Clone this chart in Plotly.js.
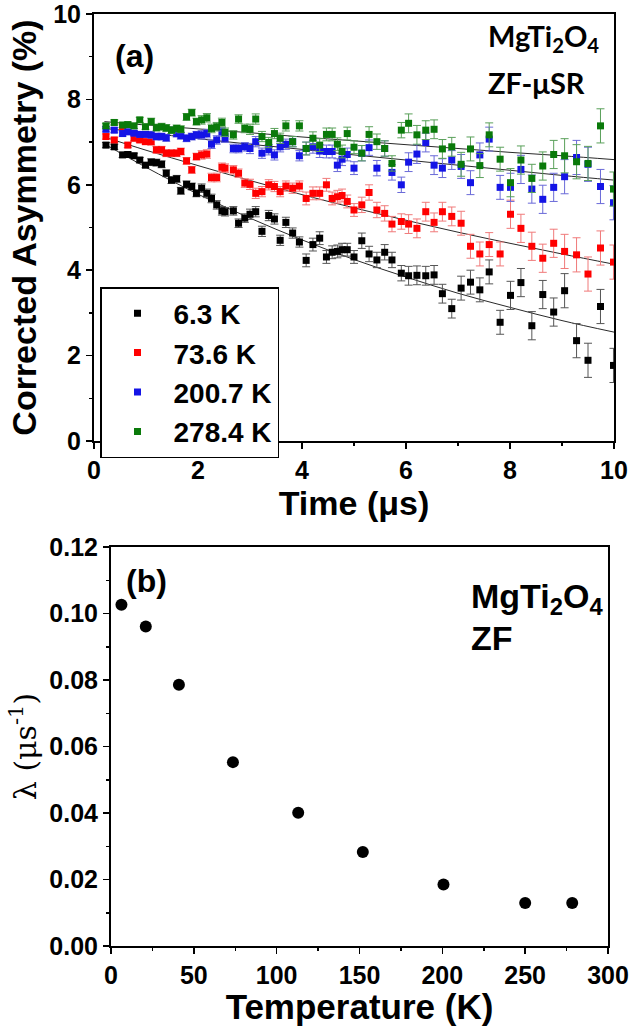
<!DOCTYPE html>
<html>
<head>
<meta charset="utf-8">
<script src="https://cdn.plot.ly/plotly-3.0.1.min.js"></script>
<style>html,body{margin:0;padding:0;background:#fff;}#chart{width:638px;height:1026px;}</style>
</head>
<body>
<div id="chart"></div>
<script>
// ---------- Panel (a): ZF-muSR asymmetry vs time ----------
const timeUs = [0.23,0.39,0.55,0.65,0.77,0.88,0.99,1.10,1.20,1.30,1.39,1.49,1.59,1.67,1.78,1.88,1.97,2.07,2.17,2.26,2.36,2.46,
  2.52,2.68,2.78,2.90,3.00,3.11,3.23,3.36,3.47,3.58,3.69,3.82,3.95,4.08,4.21,4.34,4.47,4.58,4.68,4.77,4.87,5.00,
  5.15,5.29,5.44,5.59,5.73,5.91,6.05,6.21,6.38,6.54,6.70,6.88,7.06,7.24,7.42,7.60,
  7.81,8.01,8.21,8.42,8.63,8.84,9.05,9.28,9.50,9.74,9.99];

const asym6K = [6.93,6.89,6.70,6.71,6.68,6.58,6.46,6.53,6.52,6.48,6.27,6.11,6.14,5.86,6.01,5.96,5.80,5.92,5.80,5.68,5.53,5.39,
  5.37,5.39,5.10,5.22,5.31,5.37,4.91,5.28,5.20,4.70,5.12,4.87,4.66,4.23,4.60,4.75,4.31,4.42,4.44,4.48,4.48,4.31,
  4.69,4.38,4.24,4.42,4.24,3.93,3.87,3.88,3.87,3.89,3.45,3.10,3.58,3.72,3.54,3.96,
  2.78,3.41,3.71,2.70,3.43,3.02,3.52,2.35,1.89,3.15,1.77];

const asym73K = [7.13,7.05,7.36,6.93,7.09,7.05,7.01,7.01,6.82,6.82,6.74,6.74,6.74,6.78,6.56,6.35,6.66,6.70,6.72,6.17,6.17,6.41,
  6.39,6.35,6.27,6.04,6.01,5.80,5.84,6.00,5.96,5.84,5.97,5.92,5.97,5.68,5.80,5.80,6.00,5.68,5.72,5.75,5.61,5.41,
  5.53,5.82,5.41,5.33,5.08,5.14,5.08,4.98,5.37,5.12,5.37,5.26,5.10,4.56,4.38,4.60,
  4.38,5.31,4.98,4.56,4.28,4.63,4.44,4.36,3.91,4.52,4.19];

const asym200K = [7.30,7.28,7.20,7.24,7.21,7.18,7.18,7.17,7.13,7.13,7.10,7.28,7.20,7.15,7.09,7.13,7.17,7.17,7.20,6.95,7.05,7.24,
  7.09,6.85,6.85,6.89,6.85,7.01,6.74,6.82,6.70,6.89,6.95,7.01,6.68,6.85,6.89,6.79,6.78,6.78,6.46,6.60,6.71,6.39,
  6.74,6.87,6.39,6.85,6.29,6.00,6.53,6.72,6.99,6.46,6.39,6.58,6.43,6.05,6.70,7.07,
  5.94,5.94,6.36,5.90,5.66,5.94,6.19,6.64,6.48,5.96,5.58];

const asym278K = [7.38,7.46,7.40,7.41,7.38,7.52,7.36,7.48,7.34,7.36,7.33,7.28,7.32,7.30,7.59,7.69,7.48,7.52,7.57,7.32,7.36,7.46,
  7.23,7.17,7.54,7.32,7.30,7.54,7.13,6.99,7.20,7.09,7.38,7.01,7.38,6.85,7.09,6.93,7.18,7.18,6.95,6.78,7.20,6.88,
  6.74,7.18,7.01,6.85,6.50,7.28,7.44,7.17,7.28,7.30,6.84,6.89,6.48,6.84,6.45,7.17,
  6.60,6.05,6.58,6.15,6.44,6.71,6.68,6.54,6.50,7.38,5.90];

const asymErr = [0.06,0.06,0.06,0.06,0.06,0.06,0.06,0.08,0.08,0.08,0.08,0.08,0.08,0.08,0.08,0.08,0.08,0.10,0.10,0.10,0.10,0.10,
  0.10,0.10,0.10,0.10,0.12,0.12,0.12,0.12,0.12,0.12,0.12,0.12,0.12,0.15,0.15,0.15,0.15,0.15,0.15,0.15,0.15,0.15,
  0.18,0.18,0.18,0.18,0.18,0.18,0.22,0.22,0.22,0.22,0.22,0.22,0.28,0.28,0.28,0.28,
  0.28,0.33,0.33,0.33,0.33,0.33,0.40,0.40,0.40,0.40,0.40];

// fitted relaxation curves
const fitTime = [0.2,1,2,3,4,5,6,7,8,9,10];
const fit6K   = [6.96,6.41,5.78,5.22,4.71,4.25,3.84,3.46,3.13,2.82,2.55];
const fit73K  = [7.12,6.81,6.45,6.10,5.77,5.46,5.17,4.89,4.63,4.38,4.14];
const fit200K = [7.32,7.22,7.08,6.95,6.83,6.70,6.58,6.46,6.34,6.22,6.11];
const fit278K = [7.48,7.40,7.31,7.22,7.12,7.03,6.94,6.85,6.76,6.68,6.59];

const seriesNames = ['6.3 K','73.6 K','200.7 K','278.4 K'];

// ---------- Panel (b): relaxation rate vs temperature ----------
const tempK = [6.3,21,41,73.6,113,152,200.7,250,278.4];
const lambdaUs = [0.1026,0.0961,0.0786,0.0553,0.0401,0.0283,0.0185,0.0129,0.0129];

// ---------- styling ----------
const colors = ['#000000','#ff0000','#1414e6','#0a7a0a'];
const errColors = ['#555555','#f07a7a','#6a6ad8','#5aa05a'];
const dataSets = [asym6K, asym73K, asym200K, asym278K];
const fitSets = [fit6K, fit73K, fit200K, fit278K];

const SANS = '"Liberation Sans",Arial,sans-serif';
function tf(){ return {family:SANS, size:25, color:'#000', weight:'bold'}; }
const traces = [];

fitSets.forEach((f)=>{
  traces.push({x:fitTime, y:f, type:'scatter', mode:'lines', line:{color:'#2a2a2a', width:1, shape:'spline'},
    showlegend:false, hoverinfo:'skip', xaxis:'x', yaxis:'y'});
});
dataSets.forEach((d,i)=>{
  traces.push({x:timeUs, y:d, type:'scatter', mode:'markers', name:seriesNames[i],
    marker:{symbol:'square', size:7, color:colors[i]},
    error_y:{type:'data', array:asymErr, visible:true, color:errColors[i], thickness:1, width:4},
    xaxis:'x', yaxis:'y'});
});
traces.push({x:tempK, y:lambdaUs, type:'scatter', mode:'markers', showlegend:false,
  marker:{symbol:'circle', size:12, color:'#000'}, xaxis:'x2', yaxis:'y2'});

const W=638, H=1026;
function ax(extra){
  return Object.assign({showline:true, linecolor:'#000', linewidth:2, mirror:true, ticks:'outside', ticklen:6,
    tickwidth:1.5, tickcolor:'#000', showgrid:false, zeroline:false, tickfont:tf(), ticklabeloverflow:'allow'}, extra);
}

const layout = {
  width:W, height:H, margin:{l:0,r:0,t:0,b:0}, paper_bgcolor:'#fff', plot_bgcolor:'#fff',
  showlegend:true,
  legend:{x:100/W, y:1-287/H, xanchor:'left', yanchor:'top', bgcolor:'#fff', bordercolor:'#000', borderwidth:1.5,
    font:{family:SANS, size:28, color:'#000', weight:'bold'},
    traceorder:'normal', itemwidth:62},
  xaxis:ax({domain:[94/W, 614/W], range:[0,10], dtick:2, tick0:0, anchor:'y',
    minor:{dtick:1, ticks:'outside', ticklen:3, tickcolor:'#000'},
    title:{text:'Time (μs)', standoff:4, font:{family:SANS, size:34, color:'#000', weight:'bold'}}}),
  yaxis:ax({domain:[1-441/H, 1-14/H], range:[0,10], dtick:2, tick0:0, anchor:'x',
    minor:{dtick:1, ticks:'outside', ticklen:3, tickcolor:'#000'},
    title:{text:'Corrected Asymmetry (%)', standoff:6, font:{family:SANS, size:34, color:'#000', weight:'bold'}}}),
  xaxis2:ax({domain:[111/W, 608/W], range:[0,300], dtick:50, tick0:0, anchor:'y2',
    minor:{dtick:25, ticks:'outside', ticklen:3, tickcolor:'#000'},
    title:{text:'Temperature (K)', standoff:6, font:{family:SANS, size:35, color:'#000', weight:'bold'}}}),
  yaxis2:ax({domain:[1-946/H, 1-547/H], range:[0,0.12], dtick:0.02, tick0:0, tickformat:'.2f', anchor:'x2',
    minor:{dtick:0.01, ticks:'outside', ticklen:3, tickcolor:'#000'},
    title:{text:'λ (μs<sup>-1</sup>)', standoff:4, font:{family:'"DejaVu Serif","Liberation Serif",serif', size:30, color:'#000'}}}),
  annotations:[
    {text:'(a)', xref:'paper', yref:'paper', x:113/W, y:1-56/H, xanchor:'left', yanchor:'middle', showarrow:false,
      font:{family:SANS, size:32, color:'#000', weight:'bold'}},
    {text:'MgTi<sub>2</sub>O<sub>4</sub>', xref:'paper', yref:'paper', x:486/W, y:1-38/H, xanchor:'left', yanchor:'middle', showarrow:false,
      font:{family:'Lato,"Open Sans",sans-serif', size:29, color:'#000', weight:'bold'}},
    {text:'ZF-μSR', xref:'paper', yref:'paper', x:486/W, y:1-82/H, xanchor:'left', yanchor:'middle', showarrow:false,
      font:{family:'Lato,"Open Sans",sans-serif', size:29, color:'#000', weight:'bold'}},
    {text:'(b)', xref:'paper', yref:'paper', x:124/W, y:1-581/H, xanchor:'left', yanchor:'middle', showarrow:false,
      font:{family:SANS, size:32, color:'#000', weight:'bold'}},
    {text:'MgTi<sub>2</sub>O<sub>4</sub>', xref:'paper', yref:'paper', x:469/W, y:1-598/H, xanchor:'left', yanchor:'middle', showarrow:false,
      font:{family:SANS, size:34, color:'#000', weight:'bold'}},
    {text:'ZF', xref:'paper', yref:'paper', x:469/W, y:1-638/H, xanchor:'left', yanchor:'middle', showarrow:false,
      font:{family:SANS, size:34, color:'#000', weight:'bold'}}
  ]
};

Plotly.newPlot('chart', traces, layout, {staticPlot:true, displayModeBar:false});
</script>
</body>
</html>
